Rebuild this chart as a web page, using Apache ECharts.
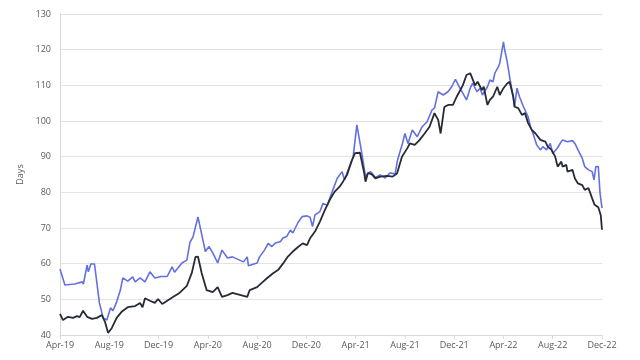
<!DOCTYPE html>
<html>
<head>
<meta charset="utf-8">
<script src="https://cdn.jsdelivr.net/npm/echarts@6/dist/echarts.min.js"></script>
<style>
  html, body { margin: 0; padding: 0; background: #fff; }
  #chart { width: 640px; height: 360px; }
</style>
</head>
<body>
<div id="chart"></div>
<script>
// x = months since Apr-19, y = days
var tickLabels = ['Apr-19', 'Aug-19', 'Dec-19', 'Apr-20', 'Aug-20', 'Dec-20', 'Apr-21', 'Aug-21', 'Dec-21', 'Apr-22', 'Aug-22', 'Dec-22']

var blueSeries = [
  [0, 58.5], [0.4, 54], [1.2, 54.3], [1.8, 54.9], [1.9, 54.3], [2.2, 59.6], [2.3, 57.7], [2.5, 59.9], [2.8, 59.9],
  [3.2, 49], [3.5, 44.8], [3.8, 44.2], [4.1, 47.6], [4.3, 46.8], [4.6, 49.3], [4.9, 52.6], [5.1, 56], [5.5, 55.1],
  [5.9, 56.3], [6.1, 54.9], [6.5, 56], [6.9, 54.9], [7.3, 57.7], [7.7, 56], [8.2, 56.4], [8.7, 56.4], [9.1, 59.1],
  [9.3, 57.6], [9.9, 60.2], [10.3, 61], [10.55, 66], [10.8, 67.5], [11.2, 73.1], [11.8, 63.4], [12.1, 64.8],
  [12.4, 63], [12.8, 60.2], [13.15, 63.8], [13.6, 61.6], [14.0, 61.9], [14.9, 60.5], [15.2, 61.9], [15.3, 59.4],
  [16.0, 60.2], [16.2, 61.9], [16.6, 63.8], [16.9, 65.7], [17.2, 64.8], [17.45, 65.7], [17.9, 66.2], [18.1, 67.2],
  [18.4, 67.6], [18.7, 69.4], [18.9, 68.6], [19.3, 71.4], [19.65, 73.2], [20.05, 73.4], [20.3, 73], [20.5, 70.4],
  [20.7, 73.7], [21.1, 74.6], [21.35, 76.9], [21.7, 76.4], [22.1, 80.2], [22.5, 83.9], [22.9, 85.8], [23.1, 83.5],
  [23.4, 86.3], [23.8, 90], [24.1, 98.9], [24.5, 91], [24.8, 84.3], [25.0, 85.4], [25.2, 85.8], [25.6, 84.2],
  [26.0, 84.9], [26.4, 84], [26.8, 85.5], [27.2, 85.1], [27.4, 89], [27.8, 93.7], [28.0, 96.5], [28.25, 93.7],
  [28.6, 97.5], [29.0, 95.6], [29.4, 98.4], [29.8, 99.8], [30.2, 103.1], [30.4, 103.6], [30.7, 108.2], [31.1, 107.3],
  [31.5, 108.2], [31.8, 109.6], [32.1, 111.7], [32.5, 109], [32.7, 107.8], [33.0, 105.9], [33.3, 109.2], [33.5, 110.6],
  [33.85, 108.2], [34.1, 109.2], [34.3, 107.3], [34.7, 109.6], [34.9, 111.5], [35.15, 111], [35.3, 113.4],
  [35.6, 115.3], [35.7, 116.2], [36.0, 122.2], [36.1, 119.9], [36.3, 116.7], [36.5, 112.4], [36.8, 106.4],
  [36.9, 104], [37.1, 109.2], [37.3, 106.8], [37.6, 104.2], [37.75, 103.9], [38.0, 101.2], [38.2, 98.4],
  [38.4, 96.5], [38.7, 93.3], [39.0, 91.9], [39.2, 92.8], [39.5, 91.9], [39.8, 93.7], [40.0, 90.9], [40.35, 92.3],
  [40.6, 93.7], [40.8, 94.7], [41.2, 94.2], [41.6, 94.5], [41.8, 93.7], [42.05, 91.9], [42.4, 89.5], [42.6, 87.2],
  [42.9, 86.3], [43.2, 85.8], [43.35, 83.5], [43.5, 87.2], [43.7, 87.2], [43.84, 79.8], [44.0, 75.6]
]

var darkSeries = [
  [0, 45.9], [0.24, 44.2], [0.65, 45.1], [1.06, 44.8], [1.38, 45.3], [1.6, 45], [1.87, 46.8], [2.2, 45.1], [2.6, 44.5],
  [3.0, 44.8], [3.4, 45.6], [3.65, 43.7], [3.9, 40.6], [4.2, 41.9], [4.6, 44.8], [5.0, 46.5], [5.5, 47.8], [6.1, 48.1],
  [6.5, 49], [6.7, 47.8], [6.9, 50.3], [7.3, 49.6], [7.7, 49], [7.96, 50.1], [8.3, 48.7], [9.2, 50.7], [9.7, 51.8],
  [10.3, 53.8], [10.7, 57.4], [11.0, 61.9], [11.2, 62], [11.5, 57.4], [11.9, 52.6], [12.4, 52], [12.8, 53.4],
  [13.15, 50.7], [13.6, 51.2], [14.0, 51.8], [15.2, 50.7], [15.4, 52.6], [16.0, 53.4], [16.4, 54.7], [16.8, 55.9],
  [17.3, 57.3], [17.7, 58.2], [18.1, 60], [18.5, 62], [18.9, 63.4], [19.3, 64.6], [19.7, 65.7], [20.05, 65.2],
  [20.3, 67.1], [20.7, 69], [21.1, 71.8], [21.5, 75], [21.9, 77.9], [22.3, 80.2], [22.7, 81.6], [22.97, 83],
  [23.3, 84.9], [23.7, 89], [23.95, 91], [24.35, 91.1], [24.7, 85.3], [24.8, 83], [25.0, 85.4], [25.3, 85.1],
  [25.6, 83.9], [26.0, 84.4], [26.55, 84.6], [27.0, 84.4], [27.36, 85.3], [27.76, 90], [28.2, 92.4], [28.4, 93.7],
  [28.8, 93.3], [29.2, 94.7], [29.6, 96.5], [30.0, 98.4], [30.4, 102.2], [30.7, 100.3], [30.9, 96.5], [31.2, 103.9],
  [31.5, 104.5], [31.9, 104.5], [32.2, 106.8], [32.5, 108.7], [32.7, 110], [33.0, 112.9], [33.3, 113.4], [33.7, 110],
  [33.9, 111], [34.25, 108.7], [34.4, 109.6], [34.7, 104.5], [34.9, 105.9], [35.15, 106.8], [35.5, 109.6],
  [35.7, 107.3], [36.0, 109.2], [36.3, 110.5], [36.5, 111], [36.8, 106.8], [36.9, 104], [37.2, 103.6], [37.5, 101.7],
  [37.75, 102.2], [38.0, 99.4], [38.3, 97.5], [38.6, 96.5], [39.0, 94.7], [39.4, 94.2], [39.6, 92.8], [39.9, 91.9],
  [40.2, 90], [40.4, 87.2], [40.7, 88.6], [40.8, 87.2], [41.1, 87.7], [41.2, 85.8], [41.6, 86.3], [41.8, 83.9],
  [42.05, 82.5], [42.4, 82], [42.6, 80.7], [42.9, 81.2], [43.2, 78.3], [43.4, 76.5], [43.7, 75.8], [43.9, 73.6],
  [44.0, 69.5]
]

var chart = echarts.init(document.getElementById('chart'))
var labelFont = { color: '#595959', fontSize: 9, fontFamily: 'Open Sans' }

chart.setOption({
  animation: false,
  grid: { left: 60, right: 38, top: 14, bottom: 25 },
  xAxis: {
    type: 'value',
    min: 0,
    max: 44,
    interval: 4,
    splitLine: { show: false },
    axisLine: { lineStyle: { color: '#d9d9d9' } },
    axisTick: { show: true, length: 4, lineStyle: { color: '#d9d9d9' } },
    axisLabel: Object.assign({
      margin: 6,
      formatter: function (v) { return tickLabels[Math.round(v / 4)] || '' }
    }, labelFont)
  },
  yAxis: {
    type: 'value',
    min: 40,
    max: 130,
    interval: 10,
    name: 'Days',
    nameLocation: 'middle',
    nameGap: 33,
    nameTextStyle: { color: '#595959', fontSize: 9, fontFamily: 'Open Sans' },
    axisLine: { show: true, lineStyle: { color: '#d9d9d9' } },
    axisTick: { show: false },
    splitLine: { lineStyle: { color: '#e3e3e3', width: 1 } },
    axisLabel: Object.assign({ margin: 9 }, labelFont)
  },
  series: [
    {
      name: 'Blue',
      type: 'line',
      data: blueSeries,
      showSymbol: false,
      lineStyle: { color: '#6470e0', width: 1.6 },
      z: 2
    },
    {
      name: 'Dark',
      type: 'line',
      data: darkSeries,
      showSymbol: false,
      lineStyle: { color: '#262b35', width: 1.8 },
      z: 3
    }
  ]
})
</script>
</body>
</html>
